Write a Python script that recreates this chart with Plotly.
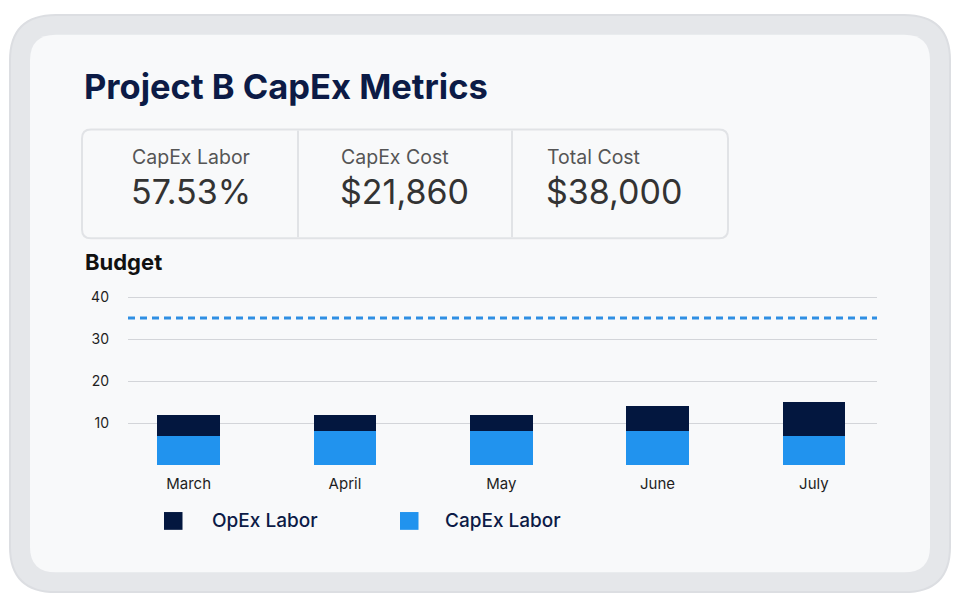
import plotly.graph_objects as go

# ---- data ----
months = ["March", "April", "May", "June", "July"]
capex_labor = [7, 8, 8, 8, 7]
opex_labor = [5, 4, 4, 6, 8]
budget_line = 35
y_ticks = [10, 20, 30, 40]

kpi_labels = ["CapEx Labor", "CapEx Cost", "Total Cost"]
kpi_values = ["57.53%", "$21,860", "$38,000"]

title_text = "Project B CapEx Metrics"
subtitle_text = "Budget"
legend_names = ["OpEx Labor", "CapEx Labor"]

# ---- style ----
W, H = 960, 600
NAVY = "#03173f"
BLUE = "#2193ee"
DASH_BLUE = "#2f8fe3"
TITLE_C = "#0c1b46"
FONT = "Inter"


def px(x):
    return x / W


def py(y):
    return 1 - y / H


def rrect(x0, y0, x1, y1, r):
    pts = [
        ("M", [(x0 + r, y0)]),
        ("L", [(x1 - r, y0)]),
        ("Q", [(x1, y0), (x1, y0 + r)]),
        ("L", [(x1, y1 - r)]),
        ("Q", [(x1, y1), (x1 - r, y1)]),
        ("L", [(x0 + r, y1)]),
        ("Q", [(x0, y1), (x0, y1 - r)]),
        ("L", [(x0, y0 + r)]),
        ("Q", [(x0, y0), (x0 + r, y0)]),
    ]
    s = ""
    for cmd, ps in pts:
        s += cmd + " " + " ".join(f"{px(a):.5f},{py(b):.5f}" for a, b in ps) + " "
    return s + "Z"


fig = go.Figure()
fig.add_trace(go.Bar(x=months, y=capex_labor, name=legend_names[1],
                     marker=dict(color=BLUE, line=dict(width=0)), width=0.4))
fig.add_trace(go.Bar(x=months, y=opex_labor, name=legend_names[0],
                     marker=dict(color=NAVY, line=dict(width=0)), width=0.4))

shapes = [
    dict(type="path", path=rrect(10, 8, 950, 592, 46), xref="paper", yref="paper",
         fillcolor="#e5e7ea", line=dict(color="#dcdee2", width=2), layer="below"),
    dict(type="path", path=rrect(30, 28, 930, 572, 26), xref="paper", yref="paper",
         fillcolor="#f8f9fa", line=dict(width=0), layer="below"),
    dict(type="path", path=rrect(82, 124, 728, 234, 9), xref="paper", yref="paper",
         fillcolor="#f8f9fa", line=dict(color="#e1e3e6", width=2), layer="below"),
    dict(type="line", xref="paper", yref="paper", x0=px(298), x1=px(298), y0=py(125), y1=py(233),
         line=dict(color="#e1e3e6", width=2), layer="below"),
    dict(type="line", xref="paper", yref="paper", x0=px(512), x1=px(512), y0=py(125), y1=py(233),
         line=dict(color="#e1e3e6", width=2), layer="below"),
    dict(type="line", xref="x domain", yref="y", x0=0, x1=1, y0=budget_line, y1=budget_line,
         line=dict(color=DASH_BLUE, width=3, dash="7px,5px")),
    # legend squares
    dict(type="rect", xref="paper", yref="paper", x0=px(164), x1=px(182.5), y0=py(529), y1=py(511),
         fillcolor=NAVY, line=dict(width=0)),
    dict(type="rect", xref="paper", yref="paper", x0=px(400), x1=px(418.5), y0=py(529), y1=py(511),
         fillcolor=BLUE, line=dict(width=0)),
]

annotations = [
    dict(text=title_text, x=px(82), y=py(80), xref="paper", yref="paper", xanchor="left",
         yanchor="middle", showarrow=False, font=dict(family=FONT, size=34.5, color=TITLE_C, weight=700)),
    dict(text=subtitle_text, x=px(83), y=py(258.5), xref="paper", yref="paper", xanchor="left",
         yanchor="middle", showarrow=False, font=dict(family=FONT, size=22, color="#111111", weight=700)),
    dict(text=legend_names[0], x=px(210), y=py(519.5), xref="paper", yref="paper", xanchor="left",
         yanchor="middle", showarrow=False, font=dict(family=FONT, size=19, color=TITLE_C, weight=500)),
    dict(text=legend_names[1], x=px(443), y=py(519.5), xref="paper", yref="paper", xanchor="left",
         yanchor="middle", showarrow=False, font=dict(family=FONT, size=19, color=TITLE_C, weight=500)),
]
kpi_x = [130, 339, 545]
for lx, lab, val in zip(kpi_x, kpi_labels, kpi_values):
    annotations.append(dict(text=lab, x=px(lx), y=py(151.5), xref="paper", yref="paper",
                            xanchor="left", yanchor="middle", showarrow=False,
                            font=dict(family=FONT, size=19.5, color="#555555")))
    annotations.append(dict(text=val, x=px(lx - 1), y=py(187), xref="paper", yref="paper",
                            xanchor="left", yanchor="middle", showarrow=False,
                            font=dict(family=FONT, size=34, color="#333333", weight=400)))

y_top = 40.6
y_bot_px, px_per_unit = 463.5, 4.25
fig.update_layout(
    width=W, height=H,
    margin=dict(l=0, r=0, t=0, b=0),
    paper_bgcolor="#ffffff",
    plot_bgcolor="rgba(0,0,0,0)",
    barmode="stack",
    showlegend=False,
    shapes=shapes,
    annotations=annotations,
    font=dict(family=FONT),
    xaxis=dict(domain=[px(128), px(877)], range=[-0.388, 4.404], showgrid=False,
               showline=False, zeroline=False, ticks="", ticklabelstandoff=8,
               tickfont=dict(family=FONT, size=15, color="#1e1e1e"), fixedrange=True),
    yaxis=dict(domain=[py(y_bot_px), py(y_bot_px - y_top * px_per_unit)], range=[0, y_top],
               tickvals=[0] + y_ticks, ticktext=[""] + [str(v) for v in y_ticks],
               showgrid=True, gridcolor="#d3d5d9", gridwidth=1, zeroline=False,
               showline=False, ticks="", ticklabelstandoff=18,
               tickfont=dict(family=FONT, size=14, color="#1e1e1e"), fixedrange=True),
)

fig.write_html("out.html", config={"displayModeBar": False},
               post_script="document.body.style.margin='0';document.body.style.overflow='hidden';")
